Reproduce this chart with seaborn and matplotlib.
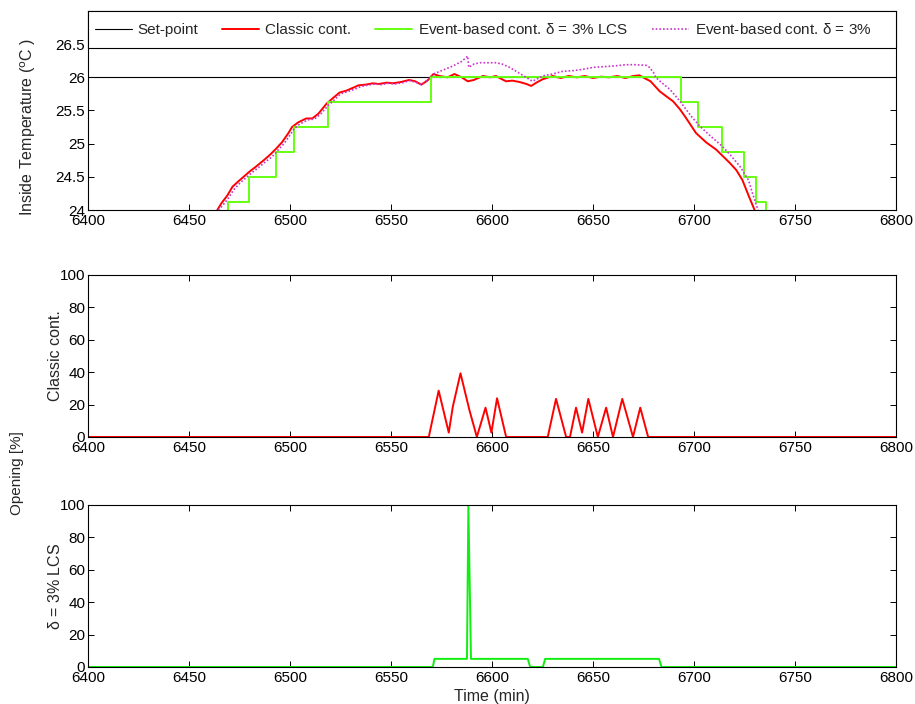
import numpy as np
import pandas as pd
import matplotlib
matplotlib.use("Agg")
import matplotlib.pyplot as plt
from matplotlib.ticker import FuncFormatter
from matplotlib.patches import Rectangle
import seaborn as sns

# ---------------- data ----------------
setpoint_t = [6400, 6800]
setpoint_v = [26.0, 26.0]

classic_t = [6464, 6466, 6469, 6471.5, 6474, 6477, 6480, 6483, 6487, 6490, 6493, 6496,
             6499, 6501, 6504, 6508, 6511, 6514, 6518, 6521, 6524.5, 6528, 6531, 6534,
             6537.6, 6541, 6544, 6548, 6551, 6555, 6559, 6562, 6565, 6568, 6571, 6574,
             6578, 6581.4, 6585, 6588, 6591, 6595.5, 6599, 6602, 6605, 6607, 6610,
             6613.6, 6617, 6619.4, 6622, 6625, 6630, 6634, 6638, 6642, 6646, 6650, 6654,
             6658, 6662, 6666, 6670, 6673, 6676, 6678.5, 6683, 6686, 6689.6, 6693, 6696,
             6701, 6706, 6711, 6717.7, 6721, 6724, 6727, 6730]
classic_v = [24.0, 24.1, 24.22, 24.35, 24.42, 24.5, 24.58, 24.65, 24.75, 24.83, 24.92, 25.02,
             25.15, 25.25, 25.32, 25.38, 25.38, 25.45, 25.6, 25.68, 25.77, 25.8, 25.84, 25.88,
             25.89, 25.91, 25.9, 25.92, 25.91, 25.93, 25.96, 25.94, 25.89, 25.95, 26.05, 26.02,
             26.0, 26.05, 26.0, 25.94, 25.96, 26.02, 26.0, 26.02, 25.97, 25.94, 25.95,
             25.93, 25.9, 25.87, 25.92, 25.97, 26.02, 25.99, 26.02, 26.0, 26.02, 25.99, 26.01,
             26.0, 26.02, 25.99, 26.02, 26.03, 25.98, 25.94, 25.79, 25.72, 25.64, 25.52, 25.39,
             25.16, 25.02, 24.91, 24.71, 24.6, 24.45, 24.22, 24.0]

lcs_t = [6460, 6469.5, 6479.5, 6493, 6502, 6519, 6570, 6693.7, 6702, 6714, 6725, 6730.6,
         6735.6, 6745]
lcs_v = [23.75, 24.125, 24.5, 24.875, 25.25, 25.625, 26.0, 25.625, 25.25, 24.875, 24.5,
         24.125, 23.75, 23.75]

event_t = [6464.5, 6467, 6470, 6472, 6475, 6478, 6481, 6484, 6488, 6491, 6494, 6497, 6500,
           6502, 6505, 6509, 6512, 6515, 6519, 6522, 6525, 6529, 6532, 6535, 6538, 6542,
           6545, 6549, 6552, 6556, 6559, 6562, 6565, 6568, 6571, 6575, 6580.6, 6585, 6588,
           6588.5, 6591, 6594, 6598, 6602, 6605, 6608.7, 6612, 6617, 6620, 6622, 6625, 6630,
           6635, 6640, 6645, 6650, 6655, 6660, 6666.4, 6671, 6676.4, 6678, 6680, 6681, 6684,
           6688, 6692, 6696, 6699, 6703, 6708, 6714, 6718, 6722.7, 6727, 6729, 6731.7]
event_v = [24.0, 24.08, 24.2, 24.3, 24.4, 24.48, 24.56, 24.63, 24.73, 24.8, 24.9, 25.0, 25.13,
           25.22, 25.3, 25.36, 25.37, 25.44, 25.58, 25.66, 25.75, 25.79, 25.82, 25.86, 25.88, 25.9,
           25.89, 25.91, 25.9, 25.92, 25.95, 25.93, 25.89, 25.96, 26.05, 26.1, 26.17, 26.24, 26.32,
           26.15, 26.2, 26.22, 26.22, 26.22, 26.2, 26.15, 26.09, 26.0, 25.94, 25.97, 26.02, 26.05,
           26.09, 26.1, 26.12, 26.15, 26.16, 26.17, 26.19, 26.19, 26.18, 26.15, 26.07, 26.0, 25.92,
           25.82, 25.68, 25.52, 25.4, 25.26, 25.12, 24.96, 24.83, 24.66, 24.45, 24.25, 24.0]

open_classic_t = [6400, 6568.7, 6573.6, 6578.6, 6580.6, 6584.4, 6588.8, 6592.5, 6596.8, 6599.7,
                  6602.5, 6607, 6627.6, 6631.7, 6636.7, 6638.6, 6641.6, 6644.6, 6647.7, 6652.4,
                  6656.5, 6659.9, 6664.5, 6669.8, 6673.4, 6677.3, 6800]
open_classic_v = [0, 0, 28.6, 2.7, 18.7, 39.3, 16.7, 0, 18.1, 2.7,
                  23.9, 0, 0, 23.5, 0, 0, 18.1, 2.7, 23.5, 0,
                  18.1, 0, 23.5, 0, 18.1, 0, 0]

open_lcs_t = [6400, 6570.7, 6571.5, 6587.6, 6588.3, 6589.6, 6617.7, 6618.9, 6625.2, 6626.3,
              6682.7, 6683.9, 6800]
open_lcs_v = [0, 0, 5, 5, 100, 5, 5, 0, 0, 5, 5, 0, 0]

x_ticks = [6400, 6450, 6500, 6550, 6600, 6650, 6700, 6750, 6800]
temp_ticks = [24, 24.5, 25, 25.5, 26, 26.5]
open_ticks = [0, 20, 40, 60, 80, 100]

labels = ["Set-point", "Classic cont.", "Event-based cont. $\\delta$ = 3% LCS",
          "Event-based cont. $\\delta$ = 3%"]

# ---------------- style ----------------
sns.set_theme(style="ticks")
plt.rcParams["font.family"] = ["Liberation Sans", "DejaVu Sans"]
plt.rcParams.update({
    "font.size": 11,
    "axes.linewidth": 0.8,
    "axes.edgecolor": "black",
    "xtick.direction": "in",
    "ytick.direction": "in",
    "xtick.top": True,
    "ytick.right": True,
    "xtick.major.size": 4,
    "ytick.major.size": 4,
    "xtick.major.width": 0.7,
    "ytick.major.width": 0.7,
    "xtick.labelsize": 11,
    "ytick.labelsize": 11,
    "xtick.color": "black",
    "ytick.color": "black",
    "mathtext.fontset": "custom",
    "mathtext.rm": "Liberation Serif",
    "mathtext.it": "Liberation Serif:italic",
    "mathtext.default": "regular",
})

RED = "#ff0000"
GREEN = "#66ff11"
GREEN2 = "#11ee11"
MAG = "#cc33cc"

fig = plt.figure(figsize=(9.15, 7.04), dpi=100)
ax1 = fig.add_axes([0.0962, 0.7017, 0.883, 0.2827])
ax2 = fig.add_axes([0.0962, 0.3793, 0.883, 0.2301])
ax3 = fig.add_axes([0.0962, 0.0526, 0.883, 0.2301])

# top panel
sns.lineplot(x=setpoint_t, y=setpoint_v, ax=ax1, color="black", lw=0.8,
             estimator=None, sort=False, label=labels[0])
sns.lineplot(x=classic_t, y=classic_v, ax=ax1, color=RED, lw=1.4,
             estimator=None, sort=False, label=labels[1])
sns.lineplot(x=lcs_t, y=lcs_v, ax=ax1, color=GREEN, lw=1.4, drawstyle="steps-post",
             estimator=None, sort=False, label=labels[2])
sns.lineplot(x=event_t, y=event_v, ax=ax1, color=MAG, lw=1.2, linestyle=(0, (1, 1.2)),
             estimator=None, sort=False, label=labels[3])

ax1.set_xlim(6400, 6800)
ax1.set_ylim(24, 27)
ax1.set_yticks(temp_ticks)
ax1.yaxis.set_major_formatter(FuncFormatter(lambda v, p: f"{v:g}"))
ax1.set_ylabel("Inside Temperature ($^{\\mathsf{o}}$C )", fontsize=11.5,
               family="Liberation Sans")
ax1.yaxis.set_label_coords(-0.062, 0.42)

# legend: white box across the full width, entries spread inside it
h = 37 / 199
frame = Rectangle((0, 1 - h), 1, h, transform=ax1.transAxes, facecolor="white",
                  edgecolor="black", linewidth=0.8, zorder=5, clip_on=False)
ax1.add_patch(frame)
leg = ax1.legend(loc="center left", bbox_to_anchor=(0, 1 - h, 0.978, h), mode="expand",
                 ncol=4, frameon=False, borderaxespad=0,
                 fontsize=11, handlelength=2.4, handletextpad=0.4,
                 columnspacing=1.0, borderpad=0.45)
leg.set_zorder(10)

# middle panel
sns.lineplot(x=open_classic_t, y=open_classic_v, ax=ax2, color=RED, lw=1.4,
             estimator=None, sort=False)
ax2.set_xlim(6400, 6800)
ax2.set_ylim(0, 100)
ax2.set_yticks(open_ticks)
ax2.set_ylabel("Classic cont.", fontsize=11.5)
ax2.yaxis.set_label_coords(-0.031, 0.5)

# bottom panel
sns.lineplot(x=open_lcs_t, y=open_lcs_v, ax=ax3, color=GREEN2, lw=1.4,
             estimator=None, sort=False)
ax3.set_xlim(6400, 6800)
ax3.set_ylim(0, 100)
ax3.set_yticks(open_ticks)
ax3.set_ylabel("$\\delta$ = 3% LCS", fontsize=11.5)
ax3.yaxis.set_label_coords(-0.031, 0.5)
ax3.set_xlabel("Time (min)", fontsize=11.5, labelpad=2.5)

for ax in (ax1, ax2, ax3):
    ax.set_xticks(x_ticks)
    ax.tick_params(axis="x", pad=3)
    ax.tick_params(axis="y", pad=2)
    for s in ax.spines.values():
        s.set_visible(True)
        s.set_color("black")
        s.set_linewidth(0.8)

fig.text(0.019, 0.328, "Opening [%]", rotation=90, va="center", ha="center", fontsize=11)

fig.savefig("out.png", dpi=100)
